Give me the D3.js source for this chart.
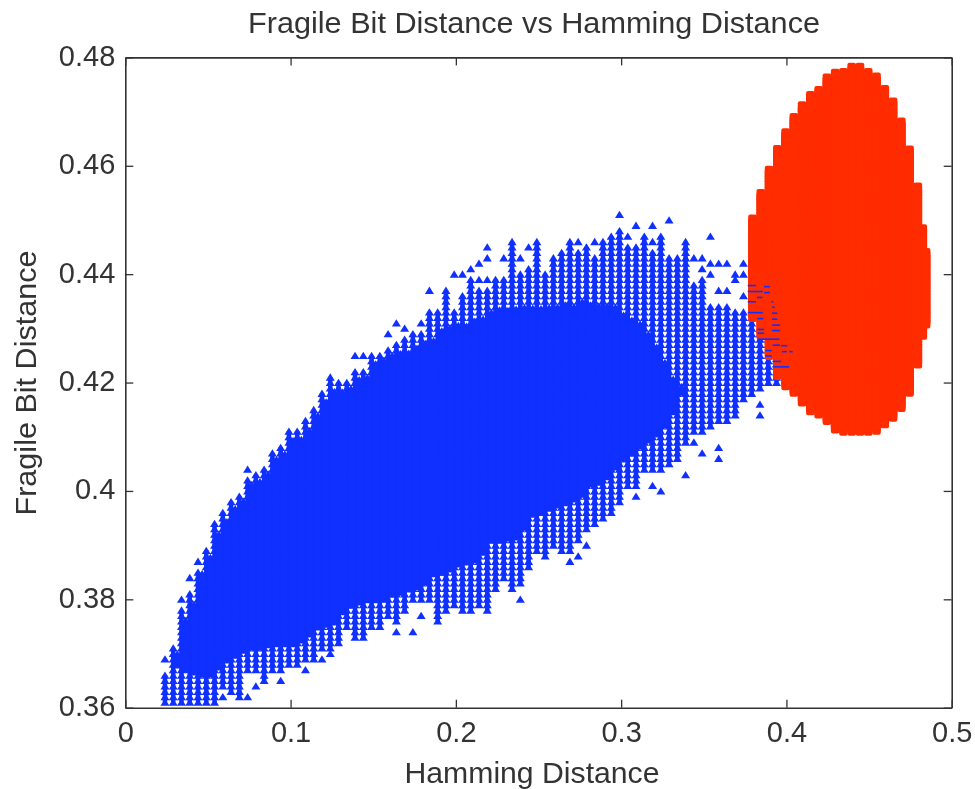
<!DOCTYPE html>
<html>
<head>
<meta charset="utf-8">
<title>Fragile Bit Distance vs Hamming Distance</title>
<script src="https://cdn.jsdelivr.net/npm/d3@7"></script>
<style>
  html, body { margin: 0; padding: 0; background: #fff; }
  svg { display: block; filter: blur(0.45px); }
  text { font-family: "Liberation Sans", Arial, sans-serif; fill: #333; }
</style>
</head>
<body>
<div id="chart"></div>
<script>
// Tick labels
const hammingTicks = [0, 0.1, 0.2, 0.3, 0.4, 0.5];
const fragileTicks = [0.36, 0.38, 0.4, 0.42, 0.44, 0.46, 0.48];

// Blue series: one column per Hamming value, occupied from low to high
const blueHamming = [
  0.024, 0.029, 0.034, 0.039, 0.044, 0.049, 0.054, 0.059, 0.064, 0.069,
  0.074, 0.079, 0.084, 0.089, 0.094, 0.099, 0.104, 0.109, 0.114, 0.119,
  0.124, 0.129, 0.134, 0.139, 0.144, 0.149, 0.154, 0.159, 0.164, 0.169,
  0.174, 0.179, 0.184, 0.189, 0.194, 0.199, 0.204, 0.209, 0.214, 0.219,
  0.224, 0.229, 0.234, 0.239, 0.244, 0.249, 0.254, 0.259, 0.264, 0.269,
  0.274, 0.279, 0.284, 0.289, 0.294, 0.299, 0.304, 0.309, 0.314, 0.319,
  0.324, 0.329, 0.334, 0.339, 0.344, 0.349, 0.354, 0.359, 0.364, 0.369,
  0.374, 0.379, 0.384, 0.389, 0.394
];
const blueLow = [
  0.361, 0.361, 0.361, 0.361, 0.361, 0.361, 0.361, 0.364, 0.363, 0.362,
  0.367, 0.367, 0.365, 0.367, 0.367, 0.368, 0.368, 0.369, 0.369, 0.371,
  0.371, 0.372, 0.375, 0.373, 0.373, 0.375, 0.375, 0.377, 0.376, 0.378,
  0.380, 0.380, 0.380, 0.376, 0.378, 0.379, 0.378, 0.378, 0.379, 0.378,
  0.382, 0.384, 0.382, 0.383, 0.386, 0.389, 0.388, 0.390, 0.389, 0.389,
  0.391, 0.393, 0.394, 0.395, 0.396, 0.398, 0.401, 0.401, 0.404, 0.404,
  0.404, 0.405, 0.406, 0.409, 0.411, 0.411, 0.412, 0.413, 0.413, 0.414,
  0.417, 0.418, 0.419, 0.420, 0.420
];
const blueHigh = [
  0.366, 0.371, 0.378, 0.381, 0.385, 0.389, 0.394, 0.396, 0.398, 0.399,
  0.402, 0.403, 0.404, 0.407, 0.408, 0.411, 0.411, 0.413, 0.415, 0.418,
  0.421, 0.420, 0.420, 0.422, 0.422, 0.425, 0.425, 0.426, 0.427, 0.428,
  0.429, 0.429, 0.433, 0.433, 0.437, 0.433, 0.436, 0.439, 0.437, 0.437,
  0.439, 0.439, 0.446, 0.440, 0.441, 0.446, 0.440, 0.443, 0.444, 0.446,
  0.444, 0.445, 0.443, 0.446, 0.447, 0.448, 0.445, 0.445, 0.447, 0.444,
  0.447, 0.443, 0.443, 0.446, 0.438, 0.439, 0.434, 0.434, 0.434, 0.433,
  0.433, 0.432, 0.430, 0.428, 0.425
];

// Blue series, dense core: in-between Hamming values where the cloud is solid
const coreHamming = [
  0.0315, 0.0365, 0.0415, 0.0465, 0.0515, 0.0565, 0.0615, 0.0665, 0.0715, 0.0765,
  0.0815, 0.0865, 0.0915, 0.0965, 0.1015, 0.1065, 0.1115, 0.1165, 0.1215, 0.1265,
  0.1315, 0.1365, 0.1415, 0.1465, 0.1515, 0.1565, 0.1615, 0.1665, 0.1715, 0.1765,
  0.1815, 0.1865, 0.1915, 0.1965, 0.2015, 0.2065, 0.2115, 0.2165, 0.2215, 0.2265,
  0.2315, 0.2365, 0.2415, 0.2465, 0.2515, 0.2565, 0.2615, 0.2665, 0.2715, 0.2765,
  0.2815, 0.2865, 0.2915, 0.2965, 0.3015, 0.3065, 0.3115, 0.3165, 0.3215, 0.3265,
  0.3315, 0.3365
];
const coreLow = [
  0.3679, 0.3671, 0.3666, 0.3662, 0.3662, 0.3675, 0.3688, 0.3697, 0.3706, 0.3712,
  0.3712, 0.3716, 0.3718, 0.3718, 0.3718, 0.3725, 0.3736, 0.3749, 0.3754, 0.3758,
  0.3777, 0.3789, 0.3795, 0.3799, 0.3799, 0.3801, 0.3810, 0.3813, 0.3819, 0.3823,
  0.3832, 0.3847, 0.3850, 0.3856, 0.3865, 0.3869, 0.3873, 0.3887, 0.3909, 0.3909,
  0.3913, 0.3915, 0.3933, 0.3957, 0.3961, 0.3968, 0.3974, 0.3978, 0.3985, 0.3994,
  0.4013, 0.4016, 0.4026, 0.4044, 0.4059, 0.4070, 0.4083, 0.4094, 0.4105, 0.4122,
  0.4146, 0.4182
];
const coreHigh = [
  0.3701, 0.3762, 0.3793, 0.3849, 0.3876, 0.3922, 0.3944, 0.3968, 0.3983, 0.4011,
  0.4018, 0.4033, 0.4057, 0.4070, 0.4094, 0.4094, 0.4112, 0.4140, 0.4162, 0.4181,
  0.4184, 0.4190, 0.4203, 0.4208, 0.4236, 0.4240, 0.4251, 0.4254, 0.4254, 0.4264,
  0.4273, 0.4277, 0.4295, 0.4301, 0.4304, 0.4304, 0.4313, 0.4315, 0.4328, 0.4334,
  0.4334, 0.4334, 0.4336, 0.4337, 0.4337, 0.4337, 0.4337, 0.4341, 0.4341, 0.4350,
  0.4343, 0.4343, 0.4343, 0.4337, 0.4325, 0.4317, 0.4310, 0.4291, 0.4264, 0.4236,
  0.4208, 0.4190
];

// Blue series: stray points outside the columns
const strayHamming = [
  0.024, 0.034, 0.039, 0.044, 0.059, 0.074, 0.074, 0.079, 0.094, 0.109,
  0.119, 0.124, 0.139, 0.144, 0.159, 0.164, 0.169, 0.179, 0.184, 0.199,
  0.204, 0.209, 0.214, 0.214, 0.219, 0.219, 0.219, 0.229, 0.239, 0.244,
  0.274, 0.284, 0.299, 0.304, 0.309, 0.319, 0.319, 0.329, 0.344, 0.349,
  0.349, 0.354, 0.354, 0.354, 0.359, 0.359, 0.364, 0.364, 0.369, 0.369,
  0.374, 0.374, 0.374, 0.164, 0.174, 0.179, 0.239, 0.269, 0.274, 0.279,
  0.309, 0.319, 0.324, 0.339, 0.344, 0.349, 0.359, 0.359, 0.384, 0.384
];
const strayFragile = [
  0.369, 0.380, 0.384, 0.387, 0.362, 0.404, 0.362, 0.364, 0.365, 0.367,
  0.369, 0.370, 0.425, 0.425, 0.429, 0.431, 0.430, 0.431, 0.437, 0.440,
  0.440, 0.441, 0.439, 0.442, 0.439, 0.443, 0.445, 0.443, 0.443, 0.445,
  0.446, 0.446, 0.451, 0.447, 0.449, 0.446, 0.449, 0.450, 0.443, 0.443,
  0.441, 0.447, 0.442, 0.440, 0.442, 0.437, 0.442, 0.437, 0.440, 0.439,
  0.442, 0.440, 0.436, 0.374, 0.374, 0.377, 0.380, 0.387, 0.388, 0.390,
  0.399, 0.401, 0.400, 0.403, 0.409, 0.407, 0.408, 0.406, 0.416, 0.414
];

// Red series columns
const redHamming = [
  0.3795, 0.3845, 0.3895, 0.3945, 0.3995, 0.4045, 0.4095, 0.4145, 0.4195, 0.4245,
  0.4295, 0.4345, 0.4395, 0.4445, 0.4495, 0.4545, 0.4595, 0.4645, 0.4695, 0.4745,
  0.4795, 0.4825, 0.4845
];
const redLow = [
  0.4321, 0.4288, 0.4251, 0.4214, 0.4195, 0.4183, 0.4165, 0.4149, 0.4143, 0.4131,
  0.4115, 0.4111, 0.4111, 0.4111, 0.4111, 0.4113, 0.4125, 0.4137, 0.4155, 0.4183,
  0.4235, 0.4288, 0.4309
];
const redHigh = [
  0.4500, 0.4549, 0.4590, 0.4629, 0.4662, 0.4690, 0.4709, 0.4730, 0.4738, 0.4759,
  0.4769, 0.4770, 0.4781, 0.4781, 0.4770, 0.4761, 0.4738, 0.4718, 0.4678, 0.4629,
  0.4559, 0.4485, 0.4441
];

// Bits of the blue cloud showing through gaps in the red one
const peekFrom = [
  0.3766, 0.3865, 0.3766, 0.3865, 0.3822, 0.3766, 0.3909, 0.3913, 0.3766, 0.3913,
  0.3824, 0.3913, 0.3913, 0.3824, 0.3913, 0.3824, 0.3824, 0.3915, 0.3968, 0.3871,
  0.3972, 0.4018, 0.3871, 0.3915, 0.3915
];
const peekTo = [
  0.3816, 0.3901, 0.3857, 0.3901, 0.3855, 0.3816, 0.3921, 0.3929, 0.3857, 0.3945,
  0.3861, 0.3945, 0.3962, 0.3865, 0.3962, 0.3865, 0.3958, 0.3962, 0.4006, 0.3911,
  0.4002, 0.4038, 0.3911, 0.3968, 0.4016
];
const peekFragile = [
  0.4379, 0.4377, 0.4368, 0.4366, 0.4357, 0.4349, 0.4349, 0.4339, 0.4329, 0.4328,
  0.4318, 0.4317, 0.4306, 0.4298, 0.4296, 0.4291, 0.4280, 0.4269, 0.4268, 0.4259,
  0.4257, 0.4257, 0.4249, 0.4239, 0.4229
];

const width = 975;
const height = 789;
const blue = '#1030ff';
const red = '#ff2c00';

const x = d3.scaleLinear().domain([0, 0.5]).range([125.3, 951.7]);
const y = d3.scaleLinear().domain([0.36, 0.48]).range([707.7, 57.4]);

const svg = d3.select('#chart').append('svg')
  .attr('width', width)
  .attr('height', height);

// Turn column ranges into the quantised points of that column
function columnPoints(xs, lows, highs, step) {
  const points = [];
  xs.forEach((h, i) => {
    const n = Math.round((highs[i] - lows[i]) / step);
    for (let j = 0; j <= n; j++) {
      points.push([h, lows[i] + j * step]);
    }
  });
  return points;
}

const bluePoints = columnPoints(blueHamming, blueLow, blueHigh, 0.001)
  .concat(columnPoints(coreHamming, coreLow, coreHigh, 0.0005))
  .concat(strayHamming.map((h, i) => [h, strayFragile[i]]));
const redPoints = columnPoints(redHamming, redLow, redHigh, 0.0005);

// Stacked triangles merge into a column in the original, the stem gives that look
svg.append('g').selectAll('line')
  .data(blueHamming)
  .join('line')
  .attr('x1', d => x(d))
  .attr('x2', d => x(d))
  .attr('y1', (d, i) => y(blueLow[i]))
  .attr('y2', (d, i) => y(blueHigh[i]))
  .attr('stroke', blue)
  .attr('stroke-width', 4.5);

// Small triangle marker
const triangle = 'M0,-3.8L4.5,3.5L-4.5,3.5Z';

svg.append('g').selectAll('path')
  .data(bluePoints)
  .join('path')
  .attr('d', triangle)
  .attr('fill', blue)
  .attr('transform', d => `translate(${x(d[0])},${y(d[1])})`);

svg.append('g').selectAll('rect')
  .data(redPoints)
  .join('rect')
  .attr('x', d => x(d[0]) - 4.3)
  .attr('y', d => y(d[1]) - 5)
  .attr('width', 8.6)
  .attr('height', 10)
  .attr('rx', 2)
  .attr('fill', red);

svg.append('g').selectAll('line')
  .data(peekFragile)
  .join('line')
  .attr('x1', (d, i) => x(peekFrom[i]))
  .attr('x2', (d, i) => x(peekTo[i]))
  .attr('y1', d => y(d))
  .attr('y2', d => y(d))
  .attr('stroke', blue)
  .attr('stroke-width', 1.6);

// Axes on all four sides, ticks pointing inward
function styleAxis(g) {
  g.selectAll('path').attr('stroke', '#333').attr('stroke-width', 1.6);
  g.selectAll('line').attr('stroke', '#333').attr('stroke-width', 1.3);
  g.selectAll('text').style('font-size', '29px').attr('fill', '#333');
}

svg.append('g')
  .attr('transform', `translate(0,${y(0.36)})`)
  .call(d3.axisBottom(x).tickValues(hammingTicks).tickFormat(d => String(d))
    .tickSizeInner(-8).tickSizeOuter(0).tickPadding(14))
  .call(styleAxis);

svg.append('g')
  .attr('transform', `translate(0,${y(0.48)})`)
  .call(d3.axisTop(x).tickValues(hammingTicks).tickFormat('')
    .tickSizeInner(-8).tickSizeOuter(0))
  .call(styleAxis);

svg.append('g')
  .attr('transform', `translate(${x(0)},0)`)
  .call(d3.axisLeft(y).tickValues(fragileTicks).tickFormat(d => String(d))
    .tickSizeInner(-8).tickSizeOuter(0).tickPadding(10))
  .call(styleAxis)
  .selectAll('text')
  .attr('dy', '0.27em');

svg.append('g')
  .attr('transform', `translate(${x(0.5)},0)`)
  .call(d3.axisRight(y).tickValues(fragileTicks).tickFormat('')
    .tickSizeInner(-8).tickSizeOuter(0))
  .call(styleAxis);

// Titles
svg.append('text')
  .attr('x', 534)
  .attr('y', 33)
  .attr('text-anchor', 'middle')
  .attr('textLength', 572)
  .attr('lengthAdjust', 'spacingAndGlyphs')
  .style('font-size', '29px')
  .text('Fragile Bit Distance vs Hamming Distance');

svg.append('text')
  .attr('x', 532)
  .attr('y', 783)
  .attr('text-anchor', 'middle')
  .attr('textLength', 255)
  .attr('lengthAdjust', 'spacingAndGlyphs')
  .style('font-size', '29px')
  .text('Hamming Distance');

svg.append('text')
  .attr('transform', 'translate(36,383) rotate(-90)')
  .attr('text-anchor', 'middle')
  .attr('textLength', 265)
  .attr('lengthAdjust', 'spacingAndGlyphs')
  .style('font-size', '29px')
  .text('Fragile Bit Distance');
</script>
</body>
</html>
